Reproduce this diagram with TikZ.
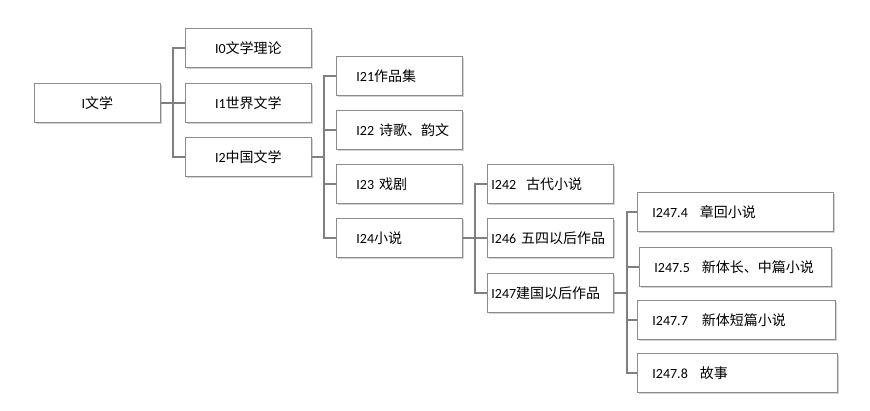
\documentclass[tikz,border=0pt]{standalone}
\usepackage{fontspec}
\setmainfont{Noto Sans CJK SC}
\newfontfamily\latinfont{Carlito}
\usetikzlibrary{shadows}
\newcommand{\idx}[1]{{\latinfont #1}}
\newcommand{\gap}[1]{\nobreak\hspace{#1}}
\begin{document}
\begin{tikzpicture}[x=1pt,y=-1pt,
    box/.style={draw=boxColour, fill=white, line width=0.8pt, anchor=north west,
        minimum height=39pt, inner ysep=0pt, font=\fontsize{14}{16}\selectfont,
        drop shadow={shadow xshift=1.2pt, shadow yshift=-1.5pt, opacity=0.35}},
    mid/.style={box, text width=126pt, inner xsep=0pt, align=center},
    lvltwo/.style={box, text width=86pt, inner xsep=20pt, align=left},
    lvlthree/.style={box, text width=118pt, inner xsep=4pt, align=left},
    lvlfour/.style={box, text width=#1, inner xsep=15pt, align=left},
    link/.style={draw=lineColour, line width=1.8pt}]
    \definecolor{boxColour}{HTML}{8C8C8C}
    \definecolor{lineColour}{HTML}{808080}
    \def\busGap{12}

    % Fix the canvas
    \useasboundingbox (0,0) rectangle (870,410);

    % Root and first level
    \node[mid] (lit) at (34,83) {\idx{I}文学};
    \node[mid] (theory) at (185,28) {\idx{I0}文学理论};
    \node[mid] (world) at (185,83) {\idx{I1}世界文学};
    \node[mid] (china) at (185,137) {\idx{I2}中国文学};

    % Second level
    \node[lvltwo] (collect) at (336,56) {\idx{I21}作品集};
    \node[lvltwo] (poetry) at (336,110) {\idx{I22}\gap{5pt}诗歌、韵文};
    \node[lvltwo] (drama) at (336,164) {\idx{I23}\gap{5pt}戏剧};
    \node[lvltwo] (novel) at (336,218) {\idx{I24}小说};

    % Third level
    \node[lvlthree] (ancient) at (487,164) {\idx{I242}\gap{10pt}古代小说};
    \node[lvlthree] (modern) at (487,218) {\idx{I246}\gap{5pt}五四以后作品};
    \node[lvlthree] (newera) at (487,273) {\idx{I247}建国以后作品};

    % Fourth level
    \node[lvlfour=166pt] (chapter) at (637,192) {\idx{I247.4}\gap{12pt}章回小说};
    \node[lvlfour=162pt] (longer) at (639,247) {\idx{I247.5}\gap{12pt}新体长、中篇小说};
    \node[lvlfour=168pt] (short) at (637,300) {\idx{I247.7}\gap{14pt}新体短篇小说};
    \node[lvlfour=170pt] (story) at (637,353) {\idx{I247.8}\gap{12pt}故事};

    % Connectors
    \foreach \child in {theory,world,china}
        \draw[link] (lit.east) -- ++(\busGap,0) |- (\child.west);
    \foreach \child in {collect,poetry,drama,novel}
        \draw[link] (china.east) -- ++(\busGap,0) |- (\child.west);
    \foreach \child in {ancient,modern,newera}
        \draw[link] (novel.east) -- ++(\busGap,0) |- (\child.west);
    \foreach \child in {chapter,longer,short,story}
        \draw[link] (newera.east) -- ++(\busGap+1,0) |- (\child.west);

\end{tikzpicture}
\end{document}
